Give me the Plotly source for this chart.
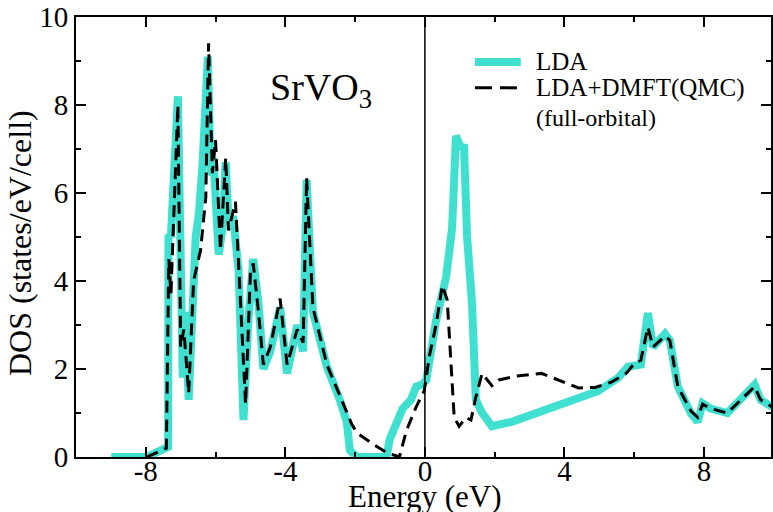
import plotly.graph_objects as go

# LDA DOS (energy in eV, DOS in states/eV/cell)
lda_e = [-8.99, -7.97, -7.36, -7.35, -7.28, -7.08, -6.94, -6.86, -6.77, -6.57, -6.48, -6.37, -6.22,
         -6.14, -6.06, -5.91, -5.80, -5.71, -5.63, -5.49, -5.34, -5.20, -5.06, -4.92, -4.77, -4.63,
         -4.43, -4.15, -3.95, -3.66, -3.49, -3.39, -3.21, -2.81, -2.44, -2.24, -2.15, -1.95, -1.10,
         -1.01, -0.64, -0.40, -0.25, -0.07, 0.04, 0.32, 0.61, 0.78, 0.89, 1.04, 1.12, 1.21, 1.35, 1.46,
         1.64, 1.92, 2.49, 3.46, 4.40, 4.97, 5.54, 5.82, 6.19, 6.39, 6.54, 6.88, 7.02, 7.25, 7.62,
         7.82, 7.96, 8.19, 8.67, 9.05, 9.45, 9.62, 9.95]
lda_dos = [0.0, 0.0, 0.23, 5.05, 5.0, 8.2, 1.8, 3.3, 1.3, 5.0, 5.5, 6.7, 9.1,
           6.4, 6.8, 4.6, 5.2, 6.7, 5.4, 5.4, 4.25, 0.84, 3.1, 4.5, 3.5, 2.0,
           2.4, 3.4, 1.9, 3.0, 2.4, 6.3, 3.3, 2.05, 1.3, 0.8, 0.15, 0.0, 0.0,
           0.4, 1.1, 1.3, 1.6, 1.65, 1.75, 3.1, 4.1, 5.2, 7.3, 7.0, 7.1, 5.0, 3.5, 1.3,
           1.0, 0.7, 0.8, 1.07, 1.34, 1.5, 1.8, 2.05, 2.1, 3.27, 2.5, 2.8, 2.65, 1.6, 1.0,
           0.8, 1.22, 1.1, 1.0, 1.3, 1.64, 1.3, 1.14]

# LDA+DMFT(QMC) DOS
dmft_e = [-7.97, -7.41, -7.34, -7.28, -7.08, -7.00, -6.91, -6.77, -6.63, -6.43, -6.28, -6.20, -6.09,
          -6.00, -5.86, -5.71, -5.63, -5.43, -5.29, -5.14, -5.00, -4.92, -4.77, -4.63, -4.43, -4.15,
          -3.95, -3.66, -3.49, -3.39, -3.21, -2.81, -2.44, -2.24, -2.10, -1.95, -1.50, -1.10, -0.73,
          -0.53, -0.25, -0.02, 0.13, 0.32, 0.50, 0.64, 0.75, 0.84, 0.98, 1.18, 1.32, 1.46, 1.64,
          1.92, 2.12, 2.60, 3.34, 3.83, 4.40, 4.88, 5.34, 5.77, 6.02, 6.19, 6.39, 6.54, 6.88, 7.02,
          7.25, 7.62, 7.82, 7.96, 8.19, 8.67, 9.05, 9.45, 9.62, 9.95]
dmft_dos = [0.0, 0.2, 4.5, 3.7, 8.0, 2.5, 2.9, 1.45, 4.0, 4.7, 5.9, 9.4, 6.45,
            7.2, 4.7, 6.8, 5.15, 5.8, 3.6, 1.2, 4.2, 4.4, 3.3, 2.1, 2.5, 3.6,
            2.1, 2.9, 2.6, 6.35, 3.4, 2.1, 1.4, 1.0, 0.75, 0.55, 0.3, 0.1, 0.0,
            0.6, 1.14, 1.5, 2.3, 3.0, 3.9, 3.57, 2.1, 0.9, 0.7, 0.9, 0.84, 1.36, 1.9,
            1.62, 1.75, 1.84, 1.9, 1.75, 1.57, 1.58, 1.7, 1.9, 2.14, 2.2, 2.95, 2.5, 2.75, 2.65,
            1.6, 1.05, 0.9, 1.2, 1.1, 1.0, 1.3, 1.6, 1.3, 1.14]

x_ticks = [-8, -4, 0, 4, 8]
y_ticks = [0, 2, 4, 6, 8, 10]

series_names = ["LDA", "LDA+DMFT(QMC)"]
series_note = "(full-orbital)"

FONT = "Liberation Serif"
LDA_COLOR = "#40E0D0"
DASH = "12px,7px"

fig = go.Figure()
fig.add_trace(go.Scatter(x=lda_e, y=lda_dos, mode="lines", name=series_names[0],
                         line=dict(color=LDA_COLOR, width=8), cliponaxis=False,
                         showlegend=False))
fig.add_trace(go.Scatter(x=dmft_e, y=dmft_dos, mode="lines", name=series_names[1],
                         line=dict(color="black", width=3, dash=DASH), cliponaxis=False,
                         showlegend=False))

axis_common = dict(showline=True, linecolor="black", linewidth=2, mirror="ticks",
                   ticks="inside", ticklen=10, tickwidth=2, tickcolor="black",
                   showgrid=False, zeroline=False, layer="above traces",
                   tickfont=dict(family=FONT, size=29, color="black"))

fig.update_xaxes(range=[-10, 9.92], tickvals=x_ticks, ticktext=[str(v) for v in x_ticks],
                 ticklabelstandoff=-13,
                 minor=dict(ticks="inside", ticklen=5, tickwidth=2, dtick=2, tick0=0,
                            tickcolor="black", showgrid=False),
                 **axis_common)
fig.update_yaxes(range=[0, 10], tickvals=y_ticks, ticktext=[str(v) for v in y_ticks],
                 minor=dict(ticks="inside", ticklen=5, tickwidth=2, dtick=1, tick0=0,
                            tickcolor="black", showgrid=False),
                 **axis_common)

fig.add_shape(type="line", xref="x", yref="paper", x0=0, x1=0, y0=0, y1=1,
              line=dict(color="black", width=1.5))

# manual legend
leg_x0, leg_x1, leg_tx = 0.574, 0.640, 0.659
leg_rows = [0.898, 0.839]
fig.add_shape(type="line", xref="paper", yref="paper", x0=leg_x0, x1=leg_x1,
              y0=leg_rows[0], y1=leg_rows[0], line=dict(color=LDA_COLOR, width=8))
fig.add_shape(type="line", xref="paper", yref="paper", x0=leg_x0, x1=leg_x1,
              y0=leg_rows[1], y1=leg_rows[1], line=dict(color="black", width=3, dash="17px,8px"))
for name, yy in zip(series_names, leg_rows):
    fig.add_annotation(text=name, xref="paper", yref="paper", x=leg_tx, y=yy,
                       xanchor="left", yanchor="middle", showarrow=False,
                       font=dict(family=FONT, size=25, color="black"))
fig.add_annotation(text=series_note, xref="paper", yref="paper", x=leg_tx, y=0.770,
                   xanchor="left", yanchor="middle", showarrow=False,
                   font=dict(family=FONT, size=24, color="black"))

fig.add_annotation(text="Energy (eV)", xref="x", yref="paper", x=0, y=0, yanchor="top",
                   yshift=-20, showarrow=False, font=dict(family=FONT, size=31, color="black"))
fig.add_annotation(text="DOS (states/eV/cell)", xref="paper", yref="paper", x=0, y=0.5,
                   xanchor="center", xshift=-56, yshift=-6, textangle=-90, showarrow=False,
                   font=dict(family=FONT, size=32, color="black"))
fig.add_annotation(text="SrVO<sub>3</sub>", xref="x", yref="y", x=-4.5, y=8.35, xanchor="left",
                   showarrow=False, font=dict(family=FONT, size=38, color="black"))

fig.update_layout(
    width=773, height=512,
    margin=dict(l=76, r=0, t=17, b=55),
    paper_bgcolor="white", plot_bgcolor="white",
    showlegend=False,
)

fig.write_html("out.html")
